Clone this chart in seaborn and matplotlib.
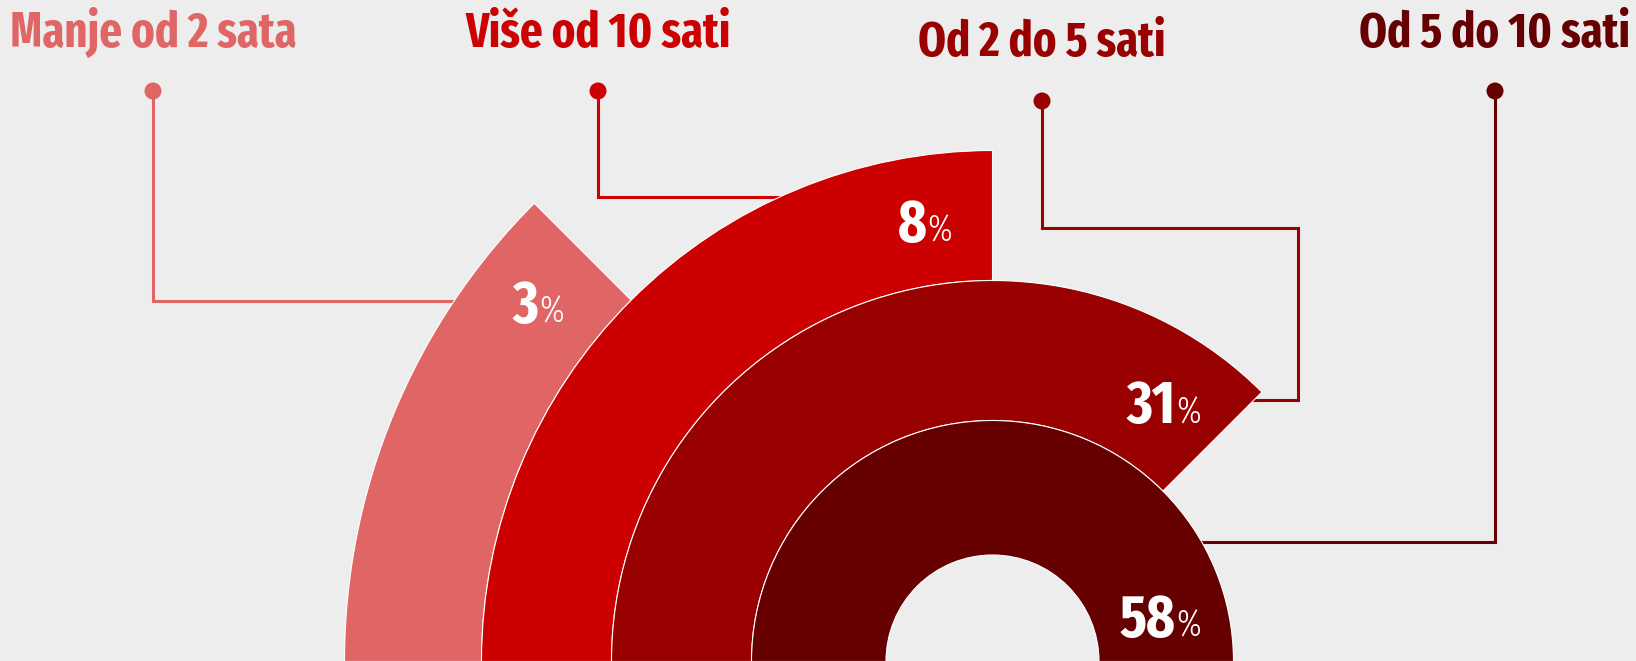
import numpy as np
import pandas as pd
import seaborn as sns
import matplotlib
matplotlib.use("Agg")
import matplotlib.pyplot as plt
from matplotlib.patches import Wedge
from matplotlib import font_manager
from matplotlib.font_manager import FontProperties
from matplotlib.textpath import TextPath

# data
categories = ["Manje od 2 sata", "Više od 10 sati", "Od 2 do 5 sati", "Od 5 do 10 sati"]
shares = [3, 8, 31, 58]
colors = ["#e06666", "#cc0000", "#990000", "#660000"]

W, H = 1636, 661
BG = "#ededed"

# layout (pixels, y measured from top)
CX, CY_PX = 992.5, 661.5
ring_edges = [648, 511, 381, 241, 106.5]   # outer -> inner
step_deg = 45
label_x = [153, 598, 1042, 1495]
label_base = [47, 47, 56, 47]
dot_y = [91, 91, 101, 91]
routes = [
    [(153, 301)],
    [(598, 197)],
    [(1042, 228), (1297.5, 228), (1297.5, 400)],
    [(1495, 542)],
]
pct_offset_deg = [6.6, 8.7, 11.5, 15.2]   # outer -> inner


def Y(ypx):
    return H - ypx


CY = Y(CY_PX)

sns.set_theme(style="white", rc={"axes.facecolor": BG, "figure.facecolor": BG})

family = "Roboto"
names = {f.name for f in font_manager.fontManager.ttflist}
for cand in ["Fira Sans Extra Condensed", "Fira Sans Condensed", "Roboto Condensed",
             "Liberation Sans Narrow"]:
    if cand in names:
        family = cand
        break
plt.rcParams["font.family"] = [family, "DejaVu Sans"]


def font_file(weight):
    # pick the upright file of the family whose weight is closest
    fl = [f for f in font_manager.fontManager.ttflist
          if f.name == family and f.style == "normal"]
    if not fl:
        return FontProperties(family=family, weight=weight)
    best = min(fl, key=lambda f: (abs(int(f.weight) - weight), f.fname))
    return FontProperties(fname=best.fname)


fp_bold = font_file(700)
fp_light = font_file(300)


def ink(s, fp):
    e = TextPath((0, 0), s, size=100, prop=fp).get_extents()
    return e.width / 100, e.height / 100


# font sizes from the measured glyph heights
title_px = 33.5 / ink("H", fp_bold)[1]
digit_px = 42 / ink("8", fp_bold)[1]
pct_px = 27 / ink("%", fp_light)[1]

fig = plt.figure(figsize=(W / 100, H / 100), dpi=100)
ax = fig.add_axes([0, 0, 1, 1])
ax.set_xlim(0, W)
ax.set_ylim(0, H)
ax.set_axis_off()

df = pd.DataFrame({"category": categories, "share": shares, "color": colors})
order = np.argsort(df["share"].values)          # smallest -> outer ring
ring_of = {idx: k for k, idx in enumerate(order)}

rings = []
for idx in df.index:
    k = ring_of[idx]
    r_out, r_in = ring_edges[k], ring_edges[k + 1]
    th1, th2 = 180 - step_deg * (k + 1), 180
    rings.append((r_out, r_in, th1, th2))
    ax.add_patch(Wedge((CX, CY), r_out, th1, th2, width=r_out - r_in,
                       facecolor=df.color[idx], edgecolor="white", lw=0.8, zorder=2))


def inside(x, y, ring):
    r_out, r_in, th1, th2 = ring
    dx, dy = x - CX, y - CY
    r = np.hypot(dx, dy)
    a = np.degrees(np.arctan2(dy, dx))
    return r_in + 2 <= r <= r_out - 2 and th1 + 0.3 <= a <= th2


# leader lines, run under the rings
for idx in df.index:
    pts = [(label_x[idx], Y(dot_y[idx]))] + [(x, Y(y)) for x, y in routes[idx]]
    x0, y0 = pts[-1]
    d = 1 if CX > x0 else -1
    x = x0
    while not inside(x, y0, rings[idx]):
        x += d
    pts.append((x + d * 12, y0))
    xs, ys = zip(*pts)
    ax.plot(xs, ys, color=df.color[idx], lw=2.2, zorder=1,
            solid_joinstyle="miter", solid_capstyle="butt")

sns.scatterplot(x=label_x, y=[Y(v) for v in dot_y], hue=categories,
                palette=dict(zip(categories, colors)), s=150, linewidth=0,
                legend=False, ax=ax, zorder=3)

# category titles
for idx in df.index:
    ax.text(label_x[idx], Y(label_base[idx]), df.category[idx], ha="center",
            va="baseline", color=df.color[idx], fontproperties=fp_bold,
            fontsize=title_px * 0.72)

# percentage labels
fig.canvas.draw()
renderer = fig.canvas.get_renderer()
for idx in df.index:
    k = ring_of[idx]
    r_out, r_in, th1, th2 = rings[idx]
    rm = (r_out + r_in) / 2
    a = np.radians(th1 + pct_offset_deg[k])
    cx, cy = CX + rm * np.cos(a), CY + rm * np.sin(a)
    t1 = ax.text(0, cy - 21, str(df.share[idx]), color="white", va="baseline",
                 ha="left", fontproperties=fp_bold, fontsize=digit_px * 0.72, zorder=4)
    t2 = ax.text(0, cy - 21, "%", color="white", va="baseline", ha="left",
                 fontproperties=fp_light, fontsize=pct_px * 0.72, zorder=4)
    w1 = t1.get_window_extent(renderer).width
    w2 = t2.get_window_extent(renderer).width
    x_start = cx - (w1 + w2 + 1) / 2
    t1.set_x(x_start)
    t2.set_x(x_start + w1 + 1)

fig.savefig("out.png", dpi=100, facecolor=BG)
